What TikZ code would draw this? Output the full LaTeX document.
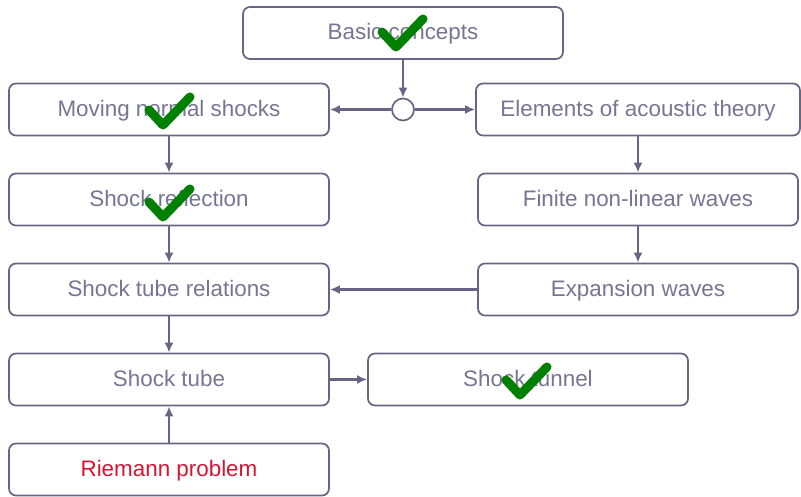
\documentclass[tikz,border=0pt]{standalone}
\usepackage{fontspec}
\setmainfont{Liberation Sans}
\usetikzlibrary{arrows.meta}

\definecolor{boxline}{RGB}{102,102,132}
\definecolor{boxtext}{RGB}{118,118,148}
\definecolor{riemannred}{RGB}{212,22,52}
\definecolor{checkgreen}{RGB}{0,128,0}

\begin{document}
\begin{tikzpicture}[x=1pt,y=1pt,->,>={Latex[length=10pt,width=9pt]},color=boxline,node distance=90pt,
  link/.style={draw=boxline,line width=2.2pt},
  main node/.style={rectangle,rounded corners=7pt,draw=boxline,line width=1.7pt,fill=white,
    minimum width=320pt,minimum height=52pt,text=boxtext,text height=18pt,text depth=4pt,
    font=\fontsize{22.4}{26}\selectfont},
  split node/.style={circle,draw=boxline,line width=1.7pt,fill=white,minimum size=22pt,inner sep=0pt},
  done/.pic={\draw[-,checkgreen,line width=9pt,line cap=round,line join=round] (-14pt,15pt) -- (0pt,0pt) -- (27pt,28pt);}]

 \useasboundingbox (0,0) rectangle (801,-497);

 \node[main node] (basic) at (403,-33) {Basic concepts};
 \node[main node] (moving) at (169,-109.5) {Moving normal shocks};
 \node[main node] (reflect) [below of=moving] {Shock reflection};
 \node[main node] (relations) [below of=reflect] {Shock tube relations};
 \node[main node] (tube) [below of=relations] {Shock tube};
 \node[main node,text=riemannred] (riemann) [below of=tube] {Riemann problem};
 \node[main node,minimum width=324pt] (acoustic) at (638,-109.5) {Elements of acoustic theory};
 \node[main node] (finite) [below of=acoustic] {Finite non-linear waves};
 \node[main node] (expansion) [below of=finite] {Expansion waves};
 \node[main node] (tunnel) [right of=tube,node distance=359pt] {Shock tunnel};
 \node[split node] (split) at (403,-109.5) {};

 \draw[link] (basic) -- (split);
 \draw[link] (split) -- (moving);
 \draw[link] (split) -- (acoustic);
 \draw[link] (moving) -- (reflect);
 \draw[link] (reflect) -- (relations);
 \draw[link] (relations) -- (tube);
 \draw[link] (riemann) -- (tube);
 \draw[link] (tube) -- (tunnel);
 \draw[link] (acoustic) -- (finite);
 \draw[link] (finite) -- (expansion);
 \draw[link] (expansion) -- (relations);

 % checked topics
 \pic at (396,-47) {done};
 \pic at (163,-125) {done};
 \pic at (163,-217) {done};
 \pic at (520,-395) {done};

\end{tikzpicture}
\end{document}
